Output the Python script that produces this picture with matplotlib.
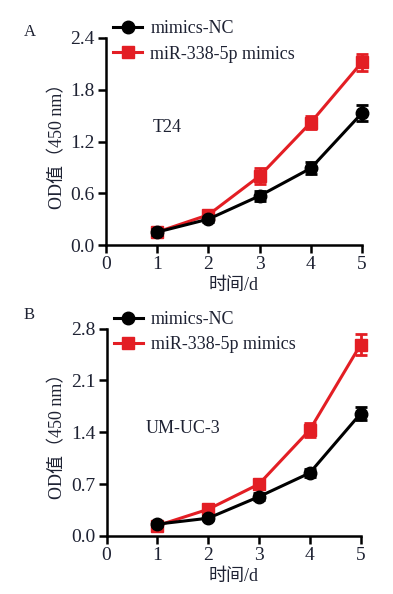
import matplotlib
matplotlib.use("Agg")
import matplotlib.pyplot as plt
from matplotlib.lines import Line2D

plt.rcParams['font.family'] = ['Liberation Serif', 'Noto Sans CJK SC']

days = [1, 2, 3, 4, 5]
x_ticks = [0, 1, 2, 3, 4, 5]

# panel A, T24
t24_nc = [0.15, 0.30, 0.57, 0.89, 1.53]
t24_nc_err = [0.03, 0.03, 0.06, 0.07, 0.09]
t24_mim = [0.15, 0.35, 0.80, 1.42, 2.12]
t24_mim_err = [0.03, 0.03, 0.09, 0.07, 0.10]
t24_yticks = [0.0, 0.6, 1.2, 1.8, 2.4]

# panel B, UM-UC-3
um_nc = [0.16, 0.24, 0.53, 0.85, 1.65]
um_nc_err = [0.03, 0.03, 0.05, 0.06, 0.09]
um_mim = [0.14, 0.36, 0.70, 1.43, 2.58]
um_mim_err = [0.03, 0.03, 0.06, 0.10, 0.14]
um_yticks = [0.0, 0.7, 1.4, 2.1, 2.8]

labels = ["mimics-NC", "miR-338-5p mimics"]
RED = "#e31e24"
TXT = "#1e2233"


def draw_panel(ax, nc, nc_err, mim, mim_err, yticks, cell, cell_xy, letter, letter_y):
    ax.errorbar(days, mim, yerr=mim_err, color=RED, marker="s", markersize=9,
                linewidth=2.2, capsize=4, capthick=2, elinewidth=2, zorder=3, clip_on=False)
    ax.errorbar(days, nc, yerr=nc_err, color="black", marker="o", markersize=9,
                linewidth=2.2, capsize=4, capthick=2, elinewidth=2, zorder=4, clip_on=False)
    ax.set_xlim(0, 5)
    ax.set_ylim(yticks[0], yticks[-1])
    ax.set_xticks(x_ticks)
    ax.set_yticks(yticks)
    ax.set_yticklabels([f"{v:.1f}" for v in yticks])
    ax.spines['top'].set_visible(False)
    ax.spines['right'].set_visible(False)
    for s in ['left', 'bottom']:
        ax.spines[s].set_linewidth(1.8)
    ax.tick_params(direction='out', length=6, width=1.8, labelsize=14, colors="black",
                   labelcolor=TXT, pad=2)
    ax.set_xlabel("时间/d", fontsize=13, color=TXT, labelpad=3)
    ax.set_ylabel("OD值（450 nm）", fontsize=13, color=TXT, labelpad=3)
    ax.text(cell_xy[0], cell_xy[1], cell, fontsize=13, color=TXT, ha="left", va="center")
    handles = [
        Line2D([], [], color="black", marker="o", markersize=9, linewidth=2.2),
        Line2D([], [], color=RED, marker="s", markersize=9, linewidth=2.2),
    ]
    leg = ax.legend(handles, labels, loc="upper left", bbox_to_anchor=(0.0, 1.12),
                    frameon=False, fontsize=13, handlelength=1.6, handletextpad=0.45,
                    labelspacing=0.45, borderaxespad=0)
    for t in leg.get_texts():
        t.set_color(TXT)
    ax.figure.text(24 / 393, letter_y, letter, fontsize=12, color=TXT, ha="left", va="center")


fig = plt.figure(figsize=(3.93, 5.94), dpi=100)
ax1 = fig.add_axes([106 / 393, 1 - 245 / 594, 256 / 393, 207 / 594])
ax2 = fig.add_axes([106.5 / 393, 1 - 536 / 594, 254 / 393, 207.5 / 594])

draw_panel(ax1, t24_nc, t24_nc_err, t24_mim, t24_mim_err, t24_yticks,
           "T24", (0.92, 1.36), "A", 1 - 32 / 594)
draw_panel(ax2, um_nc, um_nc_err, um_mim, um_mim_err, um_yticks,
           "UM-UC-3", (0.78, 1.45), "B", 1 - 315 / 594)

fig.savefig("out.png", dpi=100)
